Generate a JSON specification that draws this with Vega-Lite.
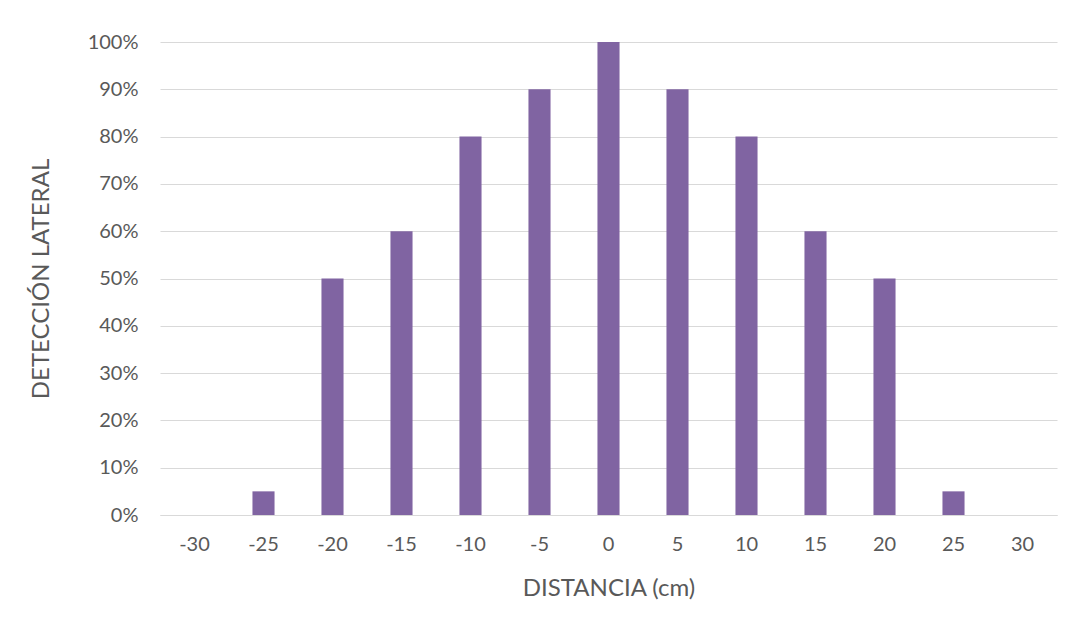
{
  "$schema": "https://vega.github.io/schema/vega-lite/v6.json",
  "width": 897,
  "height": 473,
  "autosize": {"type": "none"},
  "padding": {"left": 160, "top": 42, "right": 20, "bottom": 110},
  "background": "white",
  "config": {"view": {"stroke": null}, "font": "Lato"},
  "data": {"values": [
    {"d": "-30", "v": 0}, {"d": "-25", "v": 0.05}, {"d": "-20", "v": 0.5},
    {"d": "-15", "v": 0.6}, {"d": "-10", "v": 0.8}, {"d": "-5", "v": 0.9},
    {"d": "0", "v": 1.0}, {"d": "5", "v": 0.9}, {"d": "10", "v": 0.8},
    {"d": "15", "v": 0.6}, {"d": "20", "v": 0.5}, {"d": "25", "v": 0.05},
    {"d": "30", "v": 0}
  ]},
  "mark": {"type": "bar", "color": "#8064A2"},
  "encoding": {
    "x": {
      "field": "d", "type": "ordinal", "sort": null,
      "scale": {"paddingInner": 0.68, "paddingOuter": 0.34},
      "axis": {
        "title": "DISTANCIA (cm)", "labelAngle": 0, "ticks": false,
        "domainColor": "#d9d9d9", "domainWidth": 1,
        "labelFontSize": 20, "labelColor": "#595959", "labelPadding": 19,
        "titleFontSize": 24, "titleFontWeight": "normal", "titleColor": "#595959", "titlePadding": 22
      }
    },
    "y": {
      "field": "v", "type": "quantitative",
      "scale": {"domain": [0, 1]},
      "axis": {
        "title": "DETECCIÓN LATERAL", "format": ".0%",
        "values": [0, 0.1, 0.2, 0.3, 0.4, 0.5, 0.6, 0.7, 0.8, 0.9, 1.0],
        "labelOverlap": false,
        "ticks": false, "domain": false, "gridColor": "#d9d9d9",
        "labelFontSize": 20, "labelColor": "#595959", "labelPadding": 22,
        "titleFontSize": 24, "titleFontWeight": "normal", "titleColor": "#595959", "titlePadding": 34
      }
    }
  }
}
